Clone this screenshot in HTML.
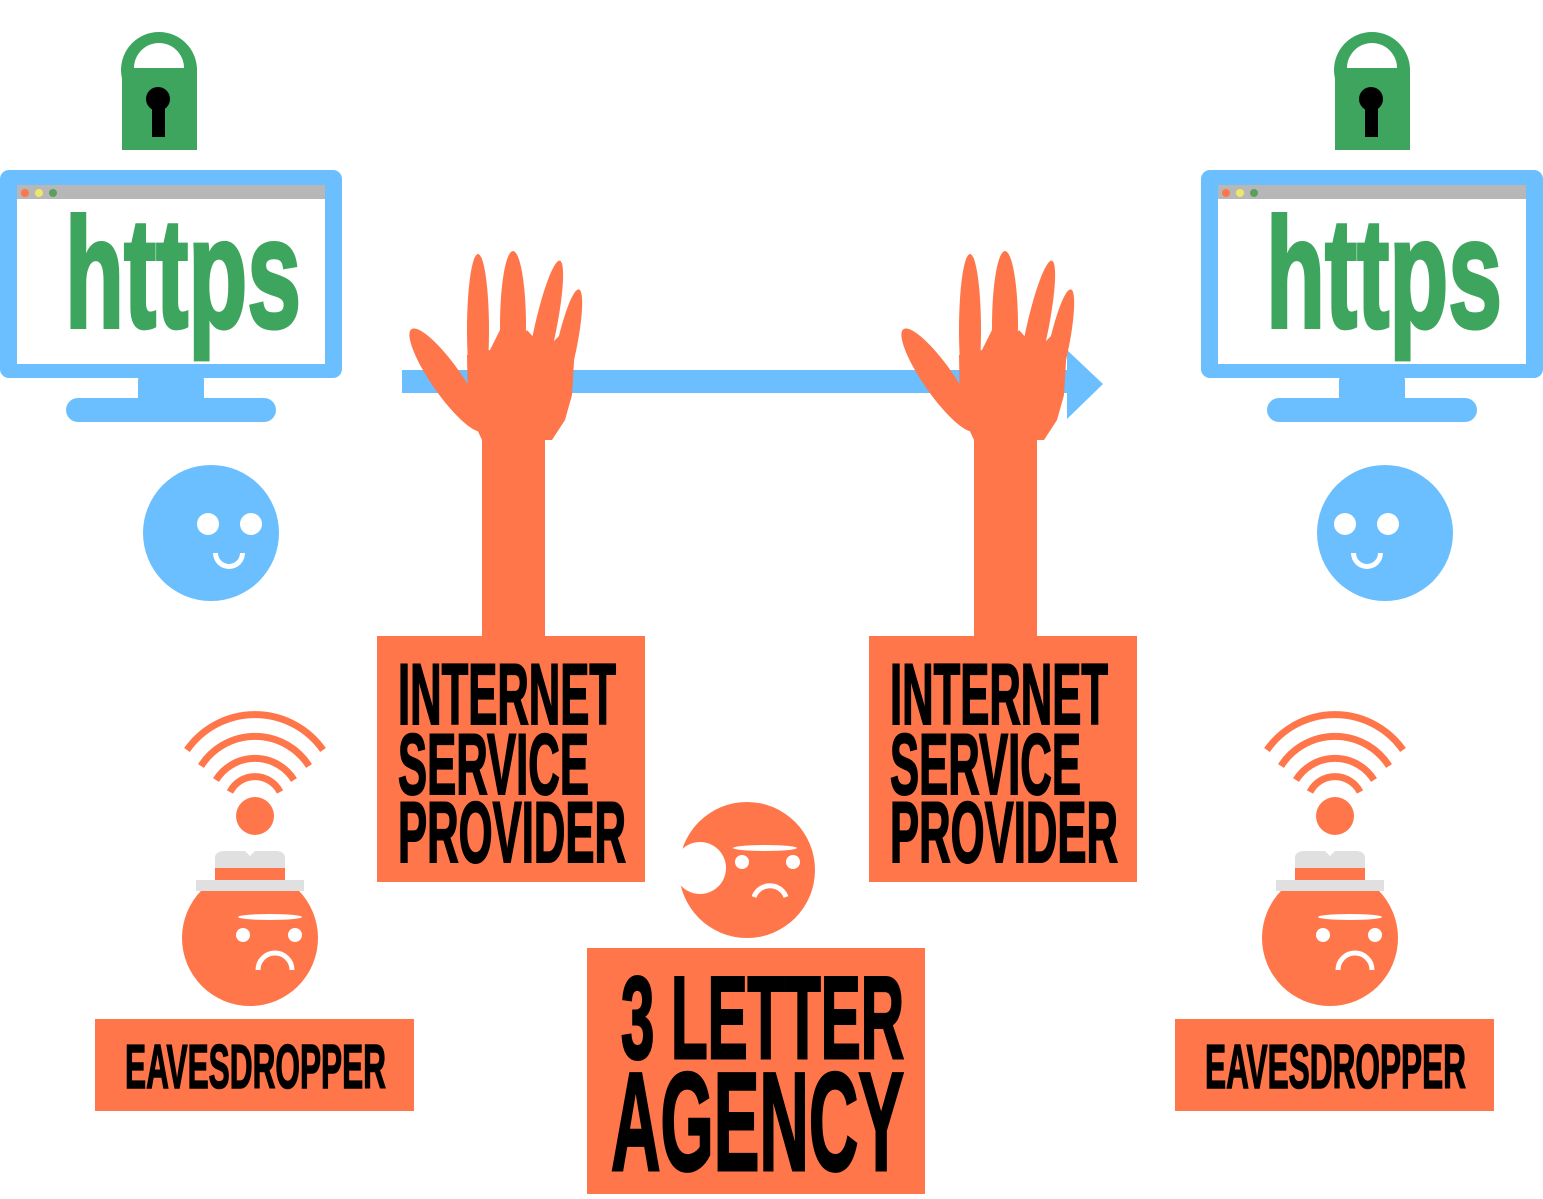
<!DOCTYPE html>
<html><head><meta charset="utf-8"><style>
html,body{margin:0;padding:0;background:#fff;width:1543px;height:1199px;overflow:hidden}
svg{display:block}
.t{font-family:"Liberation Sans Narrow","Liberation Sans",sans-serif;font-weight:bold}
</style></head><body>
<svg width="1543" height="1199" viewBox="0 0 1543 1199" xmlns="http://www.w3.org/2000/svg">
<defs>
<g id="lock">
  <circle cx="159" cy="70" r="38" fill="#3DA55D"/>
  <path d="M134 68 A25 25 0 0 1 184 68 Z" fill="#fff"/>
  <rect x="122" y="68" width="75" height="82" fill="#3DA55D"/>
  <circle cx="158" cy="99" r="12" fill="#000"/>
  <rect x="152" y="100" width="13" height="37" fill="#000"/>
</g>
<g id="mon">
  <rect x="0" y="170" width="342" height="208" rx="9" fill="#6BBFFF"/>
  <rect x="17" y="185" width="308" height="179" fill="#fff"/>
  <rect x="17" y="185" width="308" height="14" fill="#B7B7B7"/>
  <circle cx="25" cy="193" r="4" fill="#FF764A"/>
  <circle cx="39" cy="193" r="4" fill="#EEE86A"/>
  <circle cx="53" cy="193" r="4" fill="#5AA05A"/>
  <rect x="138" y="376" width="66" height="26" rx="4" fill="#6BBFFF"/>
  <rect x="66" y="398" width="210" height="24" rx="12" fill="#6BBFFF"/>
  <text class="t" x="65" y="327" font-size="156" fill="#3DA55D" stroke="#3DA55D" stroke-width="4" textLength="236" lengthAdjust="spacingAndGlyphs">https</text>
</g>
<g id="smile">
  <circle cx="211" cy="533" r="68" fill="#6BBFFF"/>
  <circle cx="208" cy="524" r="11" fill="#fff"/>
  <circle cx="251" cy="524" r="11" fill="#fff"/>
  <path d="M213 553 A16 16 0 0 0 245 553 L240 553 A11 11 0 0 1 218 553 Z" fill="#fff"/>
</g>
<g id="hand" fill="#FF764A">
  <rect x="482" y="420" width="63" height="220"/>
  <ellipse cx="478" cy="330" rx="11" ry="76"/>
  <ellipse cx="513" cy="326" rx="13" ry="75"/>
  <ellipse cx="544" cy="335" rx="11" ry="76" transform="rotate(12 544 335)"/>
  <ellipse cx="566" cy="350" rx="10" ry="62" transform="rotate(12 566 350)"/>
  <ellipse cx="447" cy="380" rx="15" ry="62" transform="rotate(-35 447 380)"/>
  <path d="M467 355 L490 350 L500 330 L510 355 L527 330 L545 350 L560 335 L575 345 L572 395 L565 420 L552 440 L482 440 L468 410 Z"/>
</g>
<g id="isp">
  <rect x="377" y="636" width="268" height="246" fill="#FF764A"/>
  <g stroke="#000" stroke-width="2">
  <text class="t" x="398" y="724" font-size="86" textLength="218" lengthAdjust="spacingAndGlyphs">INTERNET</text>
  <text class="t" x="398" y="794" font-size="86" textLength="191" lengthAdjust="spacingAndGlyphs">SERVICE</text>
  <text class="t" x="398" y="862" font-size="86" textLength="228" lengthAdjust="spacingAndGlyphs">PROVIDER</text>
  </g>
</g>
<g id="eav">
  <g fill="none" stroke="#FF764A" stroke-width="7">
    <path d="M187 750 A83 83 0 0 1 323 750"/>
    <path d="M201 766 A64 64 0 0 1 309 766"/>
    <path d="M216 780 A46 46 0 0 1 294 780"/>
    <path d="M230 792 A28 28 0 0 1 280 792"/>
  </g>
  <circle cx="255" cy="816" r="19" fill="#FF764A"/>
  <circle cx="250" cy="938" r="68" fill="#FF764A"/>
  <path d="M215 870 L215 858 Q215 851 225 851 L245 851 L250 856 L255 851 L275 851 Q285 851 285 858 L285 870 Z" fill="#E0E0E0"/>
  <rect x="215" y="868" width="70" height="12" fill="#FF764A"/>
  <rect x="196" y="880" width="108" height="11" fill="#E0E0E0"/>
  <ellipse cx="270" cy="917" rx="32" ry="3" fill="#fff"/>
  <circle cx="243" cy="935" r="7" fill="#fff"/>
  <circle cx="295" cy="935" r="7" fill="#fff"/>
  <path d="M258 970 A17 17 0 0 1 292 970" fill="none" stroke="#fff" stroke-width="5"/>
  <rect x="95" y="1019" width="319" height="92" fill="#FF764A"/>
  <text class="t" x="125" y="1088" font-size="62" stroke="#000" stroke-width="1.5" textLength="261" lengthAdjust="spacingAndGlyphs">EAVESDROPPER</text>
</g>
</defs>

<use href="#lock"/>
<use href="#lock" transform="translate(1213 0)"/>
<use href="#mon"/>
<use href="#mon" transform="translate(1201 0)"/>
<use href="#smile"/>
<use href="#smile" transform="translate(1596 0) scale(-1 1)"/>

<rect x="402" y="370" width="666" height="23" fill="#6BBFFF"/>
<path d="M1067 350 L1103 384 L1067 419 Z" fill="#6BBFFF"/>

<use href="#hand"/>
<use href="#hand" transform="translate(492 0)"/>
<use href="#isp"/>
<use href="#isp" transform="translate(492 0)"/>

<use href="#eav"/>
<use href="#eav" transform="translate(1080 0)"/>

<circle cx="747" cy="870" r="68" fill="#FF764A"/>
<circle cx="700" cy="868" r="26" fill="#fff"/>
<path d="M676 840 Q684 822 698 815" fill="none" stroke="#fff" stroke-width="4"/>
<ellipse cx="765" cy="848" rx="32" ry="3" fill="#fff"/>
<circle cx="742" cy="862" r="7" fill="#fff"/>
<circle cx="793" cy="862" r="7" fill="#fff"/>
<path d="M754 897 A17 17 0 0 1 786 897" fill="none" stroke="#fff" stroke-width="5"/>
<rect x="587" y="948" width="338" height="246" fill="#FF764A"/>
<g stroke="#000" stroke-width="3">
<text class="t" x="621" y="1058" font-size="117" textLength="283" lengthAdjust="spacingAndGlyphs">3 LETTER</text>
<text class="t" x="611" y="1170" font-size="140" textLength="293" lengthAdjust="spacingAndGlyphs">AGENCY</text>
</g>
</svg>
</body></html>
